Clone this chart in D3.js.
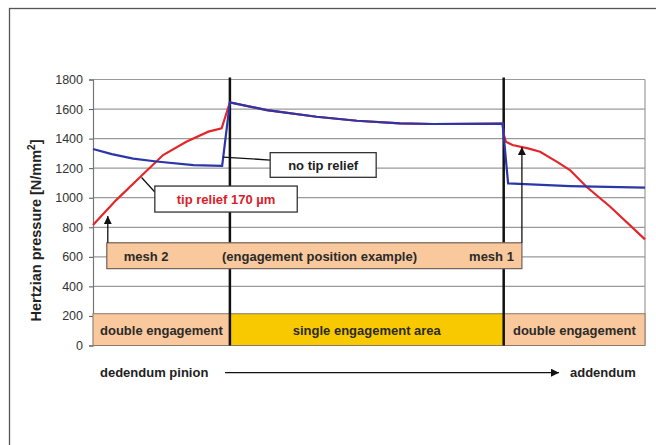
<!DOCTYPE html>
<html>
<head>
<meta charset="utf-8">
<script src="https://cdn.jsdelivr.net/npm/d3@7"></script>
<style>
  body { margin: 0; background: #fff; }
  text { font-family: "Liberation Sans", Arial, sans-serif; }
</style>
</head>
<body>
<svg id="chart" width="656" height="445"></svg>
<script>
// roll path position (0 = dedendum pinion, 100 = addendum), pressure in N/mm2
var yTicks = [0, 200, 400, 600, 800, 1000, 1200, 1400, 1600, 1800];

var noReliefPos = [0, 3.4, 7.3, 11.5, 18.2, 23.4, 24.8, 31.5, 40.5, 47.8, 55.6, 61.6, 74.2, 75.2, 86.4, 100];
var noReliefP   = [1330, 1295, 1265, 1245, 1220, 1215, 1645, 1593, 1548, 1521, 1503, 1499, 1502, 1097, 1079, 1068];

var tipReliefPos = [0, 4.2, 8.5, 12.7, 16.9, 20.9, 23.3, 24.8, 31.5, 40.5, 47.8, 55.6, 61.6, 74.2, 74.4, 74.8, 76, 78.8, 81, 84, 86.4, 89.4, 93.7, 100];
var tipReliefP   = [815, 984, 1138, 1289, 1379, 1447, 1470, 1645, 1593, 1548, 1521, 1503, 1499, 1502, 1430, 1379, 1357, 1334, 1311, 1244, 1187, 1074, 939, 718];

var zoneLabels = ["double engagement", "single engagement area", "double engagement"];
var zoneStart  = [0, 24.8, 74.4];
var zoneEnd    = [24.8, 74.4, 100];
var zoneTop = 215;

var svg = d3.select("#chart");

var x = d3.scaleLinear().domain([0, 100]).range([93, 645]);
var y = d3.scaleLinear().domain([0, 1800]).range([345.5, 79.5]);

var peach = "#f9c89c", yellow = "#f9c900";

// outer frame
svg.append("rect").attr("x", 9.5).attr("y", 8.5).attr("width", 700).attr("height", 500)
  .attr("fill", "none").attr("stroke", "#555").attr("stroke-width", 1.3);

// arrow marker
var defs = svg.append("defs");
defs.append("marker").attr("id", "arr")
  .attr("viewBox", "0 0 10 10").attr("refX", 10).attr("refY", 5)
  .attr("markerWidth", 8).attr("markerHeight", 8).attr("markerUnits", "userSpaceOnUse")
  .attr("orient", "auto")
  .append("path").attr("d", "M0,0L10,5L0,10z").attr("fill", "#111");

// gridlines
svg.append("g").selectAll("line").data(yTicks).enter().append("line")
  .attr("x1", x(0)).attr("x2", x(100))
  .attr("y1", function(d){ return y(d); }).attr("y2", function(d){ return y(d); })
  .attr("stroke", "#9a9a9a").attr("stroke-width", 1.2);

svg.append("line").attr("x1", x(100)).attr("x2", x(100)).attr("y1", y(1800)).attr("y2", y(0))
  .attr("stroke", "#9a9a9a").attr("stroke-width", 1.2);

// y axis
var yAxis = svg.append("g").attr("transform", "translate(" + x(0) + ",0)")
  .call(d3.axisLeft(y).tickValues(yTicks).tickFormat(d3.format("d")).tickSize(4).tickPadding(6));
yAxis.select(".domain").attr("stroke", "#777").attr("stroke-width", 1.2);
yAxis.selectAll(".tick line").attr("stroke", "#555");
yAxis.selectAll("text").style("font-size", "12.5px").attr("fill", "#333");

var yl = svg.append("text")
  .attr("transform", "translate(41," + (y(900) + 18) + ") rotate(-90)")
  .attr("text-anchor", "middle").style("font-size", "14.5px").style("font-weight", "bold").attr("fill", "#222");
yl.append("tspan").text("Hertzian pressure  [N/mm");
yl.append("tspan").attr("dy", -6).style("font-size", "10px").text("2");
yl.append("tspan").attr("dy", 6).text("]");

// engagement zones
var zg = svg.append("g");
zoneLabels.forEach(function(lbl, i) {
  zg.append("rect")
    .attr("x", x(zoneStart[i])).attr("y", y(zoneTop))
    .attr("width", x(zoneEnd[i]) - x(zoneStart[i])).attr("height", y(0) - y(zoneTop))
    .attr("fill", i === 1 ? yellow : peach).attr("stroke", "#8c7866").attr("stroke-width", 1);
  zg.append("text")
    .attr("x", (x(zoneStart[i]) + x(zoneEnd[i])) / 2).attr("y", (y(zoneTop) + y(0)) / 2 + 5)
    .attr("text-anchor", "middle").style("font-size", "13px").style("font-weight", "bold")
    .attr("fill", "#2a2a2a").text(lbl);
});

// dividers
[zoneStart[1], zoneStart[2]].forEach(function(p) {
  svg.append("line").attr("x1", x(p)).attr("x2", x(p)).attr("y1", y(1800) - 2).attr("y2", y(0))
    .attr("stroke", "#111").attr("stroke-width", 2.5);
});

// mesh box
var meshL = 2.5, meshR = 77.7, meshTop = 695, meshBot = 520;
svg.append("rect").attr("x", x(meshL)).attr("y", y(meshTop))
  .attr("width", x(meshR) - x(meshL)).attr("height", y(meshBot) - y(meshTop))
  .attr("fill", peach).attr("stroke", "#6e6258").attr("stroke-width", 1.2);
var my = (y(meshTop) + y(meshBot)) / 2 + 5;
svg.append("text").attr("x", x(meshL) + 17).attr("y", my).style("font-size", "13px")
  .style("font-weight", "bold").attr("fill", "#2a2a2a").text("mesh 2");
svg.append("text").attr("x", 222).attr("y", my).style("font-size", "13px")
  .style("font-weight", "bold").attr("fill", "#2a2a2a").text("(engagement position example)");
svg.append("text").attr("x", x(meshR) - 8).attr("y", my).attr("text-anchor", "end").style("font-size", "13px")
  .style("font-weight", "bold").attr("fill", "#2a2a2a").text("mesh 1");

// curves
var line = d3.line().x(function(d){ return x(d[0]); }).y(function(d){ return y(d[1]); });
svg.append("path").datum(d3.zip(tipReliefPos, tipReliefP)).attr("d", line)
  .attr("fill", "none").attr("stroke", "#e3262b").attr("stroke-width", 2.2);
svg.append("path").datum(d3.zip(noReliefPos, noReliefP)).attr("d", line)
  .attr("fill", "none").attr("stroke", "#2b36a8").attr("stroke-width", 2.2);

// mesh arrows
svg.append("line").attr("x1", x(meshL) + 1).attr("x2", x(meshL) + 1)
  .attr("y1", y(meshTop)).attr("y2", y(876)).attr("stroke", "#111").attr("stroke-width", 1.3)
  .attr("marker-end", "url(#arr)");
svg.append("line").attr("x1", x(meshR)).attr("x2", x(meshR))
  .attr("y1", y(meshTop)).attr("y2", y(1343)).attr("stroke", "#111").attr("stroke-width", 1.3)
  .attr("marker-end", "url(#arr)");

// callouts
function callout(x0, x1, p0, p1, fromPos, fromP, toP, label, color) {
  svg.append("line").attr("x1", x(fromPos)).attr("y1", y(fromP))
    .attr("x2", x(x0)).attr("y2", y(toP)).attr("stroke", "#111").attr("stroke-width", 1.3);
  svg.append("rect").attr("x", x(x0)).attr("y", y(p0))
    .attr("width", x(x1) - x(x0)).attr("height", y(p1) - y(p0))
    .attr("fill", "#fff").attr("stroke", "#333").attr("stroke-width", 1.3);
  svg.append("text").attr("x", (x(x0) + x(x1)) / 2).attr("y", (y(p0) + y(p1)) / 2 + 5)
    .attr("text-anchor", "middle").style("font-size", "13px").style("font-weight", "bold")
    .attr("fill", color).text(label);
}
callout(32.1, 51.3, 1305, 1138, 23.55, 1275, 1255, "no tip relief", "#1e1e1e");
callout(11.2, 37, 1079, 903, 8.8, 1137, 1039, "tip relief 170 µm", "#d8202a");

// bottom direction arrow
svg.append("text").attr("x", 100).attr("y", 377).style("font-size", "13px")
  .style("font-weight", "bold").attr("fill", "#222").text("dedendum pinion");
svg.append("line").attr("x1", 225).attr("x2", 559).attr("y1", 372.7).attr("y2", 372.7)
  .attr("stroke", "#111").attr("stroke-width", 1.3).attr("marker-end", "url(#arr)");
svg.append("text").attr("x", 570).attr("y", 377).style("font-size", "13px")
  .style("font-weight", "bold").attr("fill", "#222").text("addendum");
</script>
</body>
</html>
